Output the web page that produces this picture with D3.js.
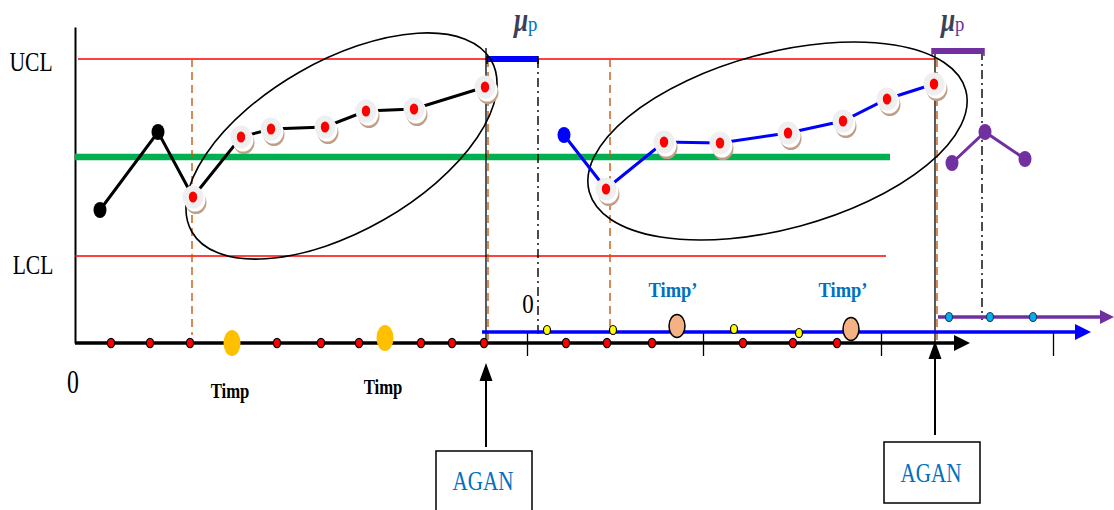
<!DOCTYPE html>
<html>
<head>
<meta charset="utf-8">
<script src="https://cdn.jsdelivr.net/npm/d3@7"></script>
<style>
    body { margin: 0; background: #fff; }
    svg { display: block; }
</style>
</head>
<body>
<div id="chart"></div>
<script>
// levels are measured upward from the time axis, time runs left to right
var limitNames = ["UCL", "LCL"];
var limitLevels = [284, 87];
var limitStarts = [78, 75];
var limitEnds = [935, 886];
var centerLevel = 186;
var centerSpan = [75, 890];

// phase 1 (black), phase 2 (blue), phase 3 (purple)
var blackT = [100, 158, 193, 241, 271, 325, 366, 414, 485];
var blackV = [133, 211, 146, 206, 214, 216, 232, 234, 256];
var blueT = [564, 606, 664, 720, 788, 843, 887, 934];
var blueV = [208, 154, 201, 200, 210, 222, 244, 259];
var purpleT = [952, 985, 1025];
var purpleV = [180, 211, 184];
var blackFirstFlagged = 2;
var blueFirstFlagged = 1;

// time lines and the samples on them
var blackAxisSpan = [75, 970];
var blackSamples = [111, 150, 190, 277, 321, 359, 421, 452, 484, 566, 607, 652, 743, 793, 837];
var timpT = [232, 385];
var timpV = [0, 5];
var blueAxisLevel = 11;
var blueAxisSpan = [482, 1091];
var blueSamplesT = [547, 613, 734, 799];
var blueSamplesV = [13, 13, 14, 10];
var timpPrimeT = [677, 851];
var timpPrimeV = [17, 14];
var purpleAxisLevel = 26;
var purpleAxisSpan = [938, 1114];
var purpleSamplesT = [949, 990, 1033];
var tickT = [527, 703, 881, 1053];

// vertical markers
var orangeT = [192, 488, 610, 937];
var orangeBottom = [8, 0, 11, 0];
var aganT = [486, 935];
var aganTop = [295, 293];
var muStartT = [487, 932];
var muEndT = [538, 984];
var muLevels = [284, 292];
var muColors = ["#0000ff", "#7030a0"];
var dashDotT = [538, 982];
var dashDotBottom = [5, 23];

var width = 1114, height = 510;

var svg = d3.select("#chart").append("svg")
    .attr("width", width)
    .attr("height", height);

var x = d3.scaleLinear().domain([0, 1114]).range([0, 1114]);
var y = d3.scaleLinear().domain([0, 316]).range([343, 27]);

function zip(ts, vs) {
    return ts.map(function (t, i) { return {t: t, v: vs[i]}; });
}

var line = d3.line()
    .x(function (d) { return x(d.t); })
    .y(function (d) { return y(d.v); });

// serif text, squeezed horizontally like the original
function label(txt, cx, base, size, sx, opts) {
    opts = opts || {};
    return svg.append("text")
        .attr("transform", "translate(" + cx + "," + base + ") scale(" + sx + ",1)")
        .attr("text-anchor", opts.anchor || "middle")
        .attr("font-family", "'Liberation Serif', 'Times New Roman', serif")
        .attr("font-size", size)
        .attr("font-weight", opts.bold ? "bold" : "normal")
        .attr("font-style", opts.italic ? "italic" : "normal")
        .attr("fill", opts.color || "#000")
        .text(txt);
}

// vertical axis
svg.append("g")
    .attr("transform", "translate(" + x(75) + ",0)")
    .call(d3.axisLeft(y).tickValues([]).tickSizeOuter(0))
    .select(".domain")
    .attr("stroke", "#000")
    .attr("stroke-width", 2);

// control limits
svg.selectAll(".limit")
    .data(limitLevels)
    .enter().append("line")
    .attr("class", "limit")
    .attr("x1", function (d, i) { return x(limitStarts[i]); })
    .attr("x2", function (d, i) { return x(limitEnds[i]); })
    .attr("y1", function (d) { return y(d); })
    .attr("y2", function (d) { return y(d); })
    .attr("stroke", "#ff0000")
    .attr("stroke-width", 1.6);

// centre line
svg.append("line")
    .attr("x1", x(centerSpan[0])).attr("x2", x(centerSpan[1]))
    .attr("y1", y(centerLevel)).attr("y2", y(centerLevel))
    .attr("stroke", "#00b050")
    .attr("stroke-width", 6.5);

// orange dashed guides
svg.selectAll(".guide")
    .data(orangeT)
    .enter().append("line")
    .attr("class", "guide")
    .attr("x1", function (d) { return x(d); })
    .attr("x2", function (d) { return x(d); })
    .attr("y1", y(limitLevels[0]))
    .attr("y2", function (d, i) { return y(orangeBottom[i]); })
    .attr("stroke", "#c55a11")
    .attr("stroke-width", 1.4)
    .attr("stroke-dasharray", "8,5");

// AGAN restart lines
svg.selectAll(".restart")
    .data(aganT)
    .enter().append("line")
    .attr("class", "restart")
    .attr("x1", function (d) { return x(d); })
    .attr("x2", function (d) { return x(d); })
    .attr("y1", function (d, i) { return y(aganTop[i]); })
    .attr("y2", y(0))
    .attr("stroke", "#000")
    .attr("stroke-width", 1.3);

// dash-dot lines at the end of the mu_p window
svg.selectAll(".dashdot")
    .data(dashDotT)
    .enter().append("line")
    .attr("class", "dashdot")
    .attr("x1", function (d) { return x(d); })
    .attr("x2", function (d) { return x(d); })
    .attr("y1", function (d, i) { return y(muLevels[i]); })
    .attr("y2", function (d, i) { return y(dashDotBottom[i]); })
    .attr("stroke", "#000")
    .attr("stroke-width", 1.4)
    .attr("stroke-dasharray", "9,4,2,4");

// mu_p windows
muStartT.forEach(function (t0, i) {
    svg.append("line")
        .attr("x1", x(t0)).attr("x2", x(muEndT[i]))
        .attr("y1", y(muLevels[i])).attr("y2", y(muLevels[i]))
        .attr("stroke", muColors[i])
        .attr("stroke-width", 6);
});
[0, 1].forEach(function (i) {
    [muStartT[i], muEndT[i]].forEach(function (t) {
        svg.append("line")
            .attr("x1", x(t)).attr("x2", x(t))
            .attr("y1", y(muLevels[i]) - 3).attr("y2", y(muLevels[i]) + 5)
            .attr("stroke", i === 0 ? "#000" : "#7030a0")
            .attr("stroke-width", 1.5);
    });
});

// circles marking the runs
var ellipses = [
    {cx: 341.5, cy: 146, rx: 172.5, ry: 85, rot: -29.8},
    {cx: 777.5, cy: 141, rx: 195, ry: 88, rot: -15.1}
];
svg.selectAll(".run")
    .data(ellipses)
    .enter().append("ellipse")
    .attr("class", "run")
    .attr("transform", function (d) {
        return "translate(" + d.cx + "," + d.cy + ") rotate(" + d.rot + ")";
    })
    .attr("rx", function (d) { return d.rx; })
    .attr("ry", function (d) { return d.ry; })
    .attr("fill", "none")
    .attr("stroke", "#000")
    .attr("stroke-width", 1.6);

// series lines and points
function drawSeries(ts, vs, color, firstFlagged) {
    var pts = zip(ts, vs);
    svg.append("path")
        .datum(pts)
        .attr("d", line)
        .attr("fill", "none")
        .attr("stroke", color)
        .attr("stroke-width", 3);

    var plain = pts.slice(0, firstFlagged);
    svg.selectAll(null)
        .data(plain)
        .enter().append("ellipse")
        .attr("cx", function (d) { return x(d.t); })
        .attr("cy", function (d) { return y(d.v); })
        .attr("rx", 6.5)
        .attr("ry", 8)
        .attr("fill", color);

    var flagged = pts.slice(firstFlagged);
    var g = svg.selectAll(null)
        .data(flagged)
        .enter().append("g")
        .attr("transform", function (d) { return "translate(" + x(d.t) + "," + y(d.v) + ")"; });
    g.append("ellipse")
        .attr("cx", 3).attr("cy", 5.5)
        .attr("rx", 10.5).attr("ry", 11.5)
        .attr("fill", "#bf9f86");
    g.append("ellipse")
        .attr("cx", 2).attr("cy", 3)
        .attr("rx", 10.5).attr("ry", 11.5)
        .attr("fill", "#ffffff");
    g.append("ellipse")
        .attr("rx", 10.5).attr("ry", 11.5)
        .attr("fill", "#efefef");
    g.append("ellipse")
        .attr("rx", 4.2).attr("ry", 5.6)
        .attr("fill", "#ff0000");
}
drawSeries(blackT, blackV, "#000000", blackFirstFlagged);
drawSeries(blueT, blueV, "#0000ff", blueFirstFlagged);
drawSeries(purpleT, purpleV, "#7030a0", purpleT.length);

// arrow heads
function arrowHead(tipX, tipY, dir, len, half, color) {
    var p;
    if (dir === "right") p = [[tipX, tipY], [tipX - len, tipY - half], [tipX - len, tipY + half]];
    else p = [[tipX, tipY], [tipX - half, tipY + len], [tipX + half, tipY + len]];
    svg.append("path")
        .attr("d", d3.line()(p) + "Z")
        .attr("fill", color);
}

// tick marks across the time lines
svg.append("g")
    .attr("transform", "translate(0," + y(blueAxisLevel) + ")")
    .call(d3.axisBottom(x).tickValues(tickT).tickSize(24).tickFormat(""))
    .call(function (g) { g.select(".domain").remove(); })
    .selectAll("line")
    .attr("stroke", "#000")
    .attr("stroke-width", 1.3);

// black time axis
svg.append("line")
    .attr("x1", x(blackAxisSpan[0])).attr("x2", x(blackAxisSpan[1]) - 12)
    .attr("y1", y(0)).attr("y2", y(0))
    .attr("stroke", "#000").attr("stroke-width", 3.5);
arrowHead(x(blackAxisSpan[1]), y(0), "right", 16, 8, "#000");

// blue time axis
svg.append("line")
    .attr("x1", x(blueAxisSpan[0])).attr("x2", x(blueAxisSpan[1]) - 12)
    .attr("y1", y(blueAxisLevel)).attr("y2", y(blueAxisLevel))
    .attr("stroke", "#0000ff").attr("stroke-width", 3.5);
arrowHead(x(blueAxisSpan[1]), y(blueAxisLevel), "right", 16, 8, "#0000ff");

// purple time axis
svg.append("line")
    .attr("x1", x(purpleAxisSpan[0])).attr("x2", x(purpleAxisSpan[1]) - 12)
    .attr("y1", y(purpleAxisLevel)).attr("y2", y(purpleAxisLevel))
    .attr("stroke", "#7030a0").attr("stroke-width", 3.5);
arrowHead(x(purpleAxisSpan[1]), y(purpleAxisLevel), "right", 14, 7, "#7030a0");

// improvement times on the black axis
svg.selectAll(".timp")
    .data(zip(timpT, timpV))
    .enter().append("ellipse")
    .attr("cx", function (d) { return x(d.t); })
    .attr("cy", function (d) { return y(d.v); })
    .attr("rx", 8.5).attr("ry", 13)
    .attr("fill", "#ffc000");

// samples on the black axis
svg.selectAll(".bs")
    .data(blackSamples)
    .enter().append("ellipse")
    .attr("cx", function (d) { return x(d); })
    .attr("cy", y(0))
    .attr("rx", 3.6).attr("ry", 4.6)
    .attr("fill", "#ff0000")
    .attr("stroke", "#000").attr("stroke-width", 1.3);

// improvement times on the blue axis
svg.selectAll(".timpp")
    .data(zip(timpPrimeT, timpPrimeV))
    .enter().append("ellipse")
    .attr("cx", function (d) { return x(d.t); })
    .attr("cy", function (d) { return y(d.v); })
    .attr("rx", 8).attr("ry", 11.5)
    .attr("fill", "#f4b183")
    .attr("stroke", "#000").attr("stroke-width", 1.5);

// samples on the blue axis
svg.selectAll(".ys")
    .data(zip(blueSamplesT, blueSamplesV))
    .enter().append("ellipse")
    .attr("cx", function (d) { return x(d.t); })
    .attr("cy", function (d) { return y(d.v); })
    .attr("rx", 3.5).attr("ry", 4.5)
    .attr("fill", "#ffff00")
    .attr("stroke", "#000").attr("stroke-width", 1.2);

// samples on the purple axis
svg.selectAll(".cs")
    .data(purpleSamplesT)
    .enter().append("ellipse")
    .attr("cx", function (d) { return x(d); })
    .attr("cy", y(purpleAxisLevel))
    .attr("rx", 3.5).attr("ry", 4.5)
    .attr("fill", "#00b0f0")
    .attr("stroke", "#1f3864").attr("stroke-width", 1.2);

// AGAN arrows and boxes
var aganTipY = [363, 341];
var aganTailY = [447, 435];
var aganBoxes = [[436, 451, 96, 66], [884, 442, 96, 61]];
var aganTextY = [490, 482];
aganT.forEach(function (t, i) {
    var ax = x(t);
    svg.append("line")
        .attr("x1", ax).attr("x2", ax)
        .attr("y1", aganTailY[i]).attr("y2", aganTipY[i] + 12)
        .attr("stroke", "#000").attr("stroke-width", 2);
    arrowHead(ax, aganTipY[i], "up", 18, 6.5, "#000");
    var b = aganBoxes[i];
    svg.append("rect")
        .attr("x", b[0]).attr("y", b[1])
        .attr("width", b[2]).attr("height", b[3])
        .attr("fill", "#fff")
        .attr("stroke", "#000").attr("stroke-width", 1.5);
    label("AGAN", b[0] + b[2] / 2 - 1, aganTextY[i], 27, 0.78, {color: "#0070c0"});
});

// text labels
label("UCL", 31, 71, 28, 0.77);
label("LCL", 33, 274, 28, 0.77);
label("0", 73, 393, 33, 0.72);
label("0", 528, 313, 27, 0.85);
label("Timp", 230, 398, 22, 0.76, {bold: true});
label("Timp", 383, 394, 22, 0.76, {bold: true});
label("Timp\u2019", 673, 297, 21, 0.88, {bold: true, color: "#0070c0"});
label("Timp\u2019", 843, 297, 21, 0.88, {bold: true, color: "#0070c0"});

// mu_p labels
var muX = [514, 941];
var pColors = ["#0070c0", "#7030a0"];
muX.forEach(function (mx, i) {
    label("\u03bc", mx, 31, 34, 0.75, {anchor: "start", italic: true, bold: true, color: "#3b3f58"});
    label("p", mx + 14, 31, 22, 0.85, {anchor: "start", color: pColors[i]});
});
</script>
</body>
</html>
